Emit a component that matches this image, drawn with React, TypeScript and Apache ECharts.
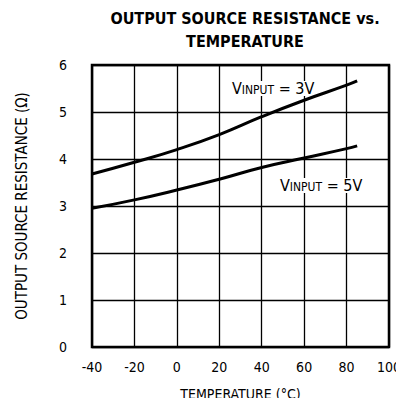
import React, { useEffect, useRef } from "react";
import * as echarts from "echarts";

const temps = [-40, -20, 0, 20, 40, 60, 80, 85];
const vin3 = [3.68, 3.93, 4.2, 4.52, 4.9, 5.25, 5.57, 5.66];
const vin5 = [2.95, 3.13, 3.34, 3.57, 3.82, 4.02, 4.22, 4.28];

const FONT = "'DejaVu Sans Condensed', 'Liberation Sans Narrow', 'DejaVu Sans', sans-serif";

export default function App() {
  const ref = useRef<HTMLDivElement>(null);
  useEffect(() => {
    if (!ref.current) return;
    const chart = echarts.init(ref.current, undefined, { renderer: "svg" });
    const rich = {
      v: { fontSize: 16, fontFamily: FONT, color: "#000" },
      s: { fontSize: 12, fontFamily: FONT, color: "#000", padding: [4, 0, 0, 0] },
    };
    chart.setOption({
      animation: false,
      backgroundColor: "#fff",
      title: {
        text: "OUTPUT SOURCE RESISTANCE vs.\nTEMPERATURE",
        left: 240,
        top: 2,
        textAlign: "center",
        textStyle: {
          fontFamily: FONT,
          fontWeight: 900,
          fontSize: 16,
          lineHeight: 23,
          color: "#000",
        },
      },
      grid: {
        left: 92,
        right: 8,
        top: 65,
        bottom: 51,
        show: true,
        borderColor: "#000",
        borderWidth: 2.5,
      },
      xAxis: {
        type: "value",
        min: -40,
        max: 100,
        interval: 20,
        name: "TEMPERATURE (°C)",
        nameLocation: "middle",
        nameGap: 40,
        nameTextStyle: { fontFamily: FONT, fontSize: 14, color: "#000" },
        axisLine: { show: false },
        axisTick: { show: false },
        axisLabel: { fontFamily: FONT, fontSize: 14, color: "#000", margin: 13 },
        splitLine: { show: true, lineStyle: { color: "#000", width: 1.3 } },
      },
      yAxis: {
        type: "value",
        min: 0,
        max: 6,
        interval: 1,
        name: "OUTPUT SOURCE RESISTANCE (Ω)",
        nameLocation: "middle",
        nameGap: 63,
        nameRotate: 90,
        nameTextStyle: { fontFamily: FONT, fontSize: 15, color: "#000" },
        axisLine: { show: false },
        axisTick: { show: false },
        axisLabel: { fontFamily: FONT, fontSize: 14, color: "#000", margin: 25 },
        splitLine: { show: true, lineStyle: { color: "#000", width: 1.3 } },
      },
      series: [
        {
          type: "line",
          data: temps.map((t, i) => [t, vin3[i]]),
          smooth: true,
          showSymbol: false,
          lineStyle: { color: "#000", width: 3 },
          silent: true,
          z: 3,
        },
        {
          type: "line",
          data: temps.map((t, i) => [t, vin5[i]]),
          smooth: true,
          showSymbol: false,
          lineStyle: { color: "#000", width: 3 },
          silent: true,
          z: 3,
        },
      ],
      graphic: [
        {
          type: "rect",
          left: 229,
          top: 81,
          z: 1,
          shape: { width: 78, height: 15 },
          style: { fill: "#fff" },
        },
        {
          type: "text",
          left: 232,
          top: 80,
          z: 1,
          style: {
            text: "{v|V}{s|INPUT}{v| = 3V}",
            rich,
          },
        },
        {
          type: "rect",
          left: 277,
          top: 178,
          z: 1,
          shape: { width: 78, height: 15 },
          style: { fill: "#fff" },
        },
        {
          type: "text",
          left: 280,
          top: 177,
          z: 1,
          style: {
            text: "{v|V}{s|INPUT}{v| = 5V}",
            rich,
          },
        },
      ],
    });
    return () => chart.dispose();
  }, []);
  return <div ref={ref} style={{ width: 404, height: 406, margin: -8 }} />;
}
